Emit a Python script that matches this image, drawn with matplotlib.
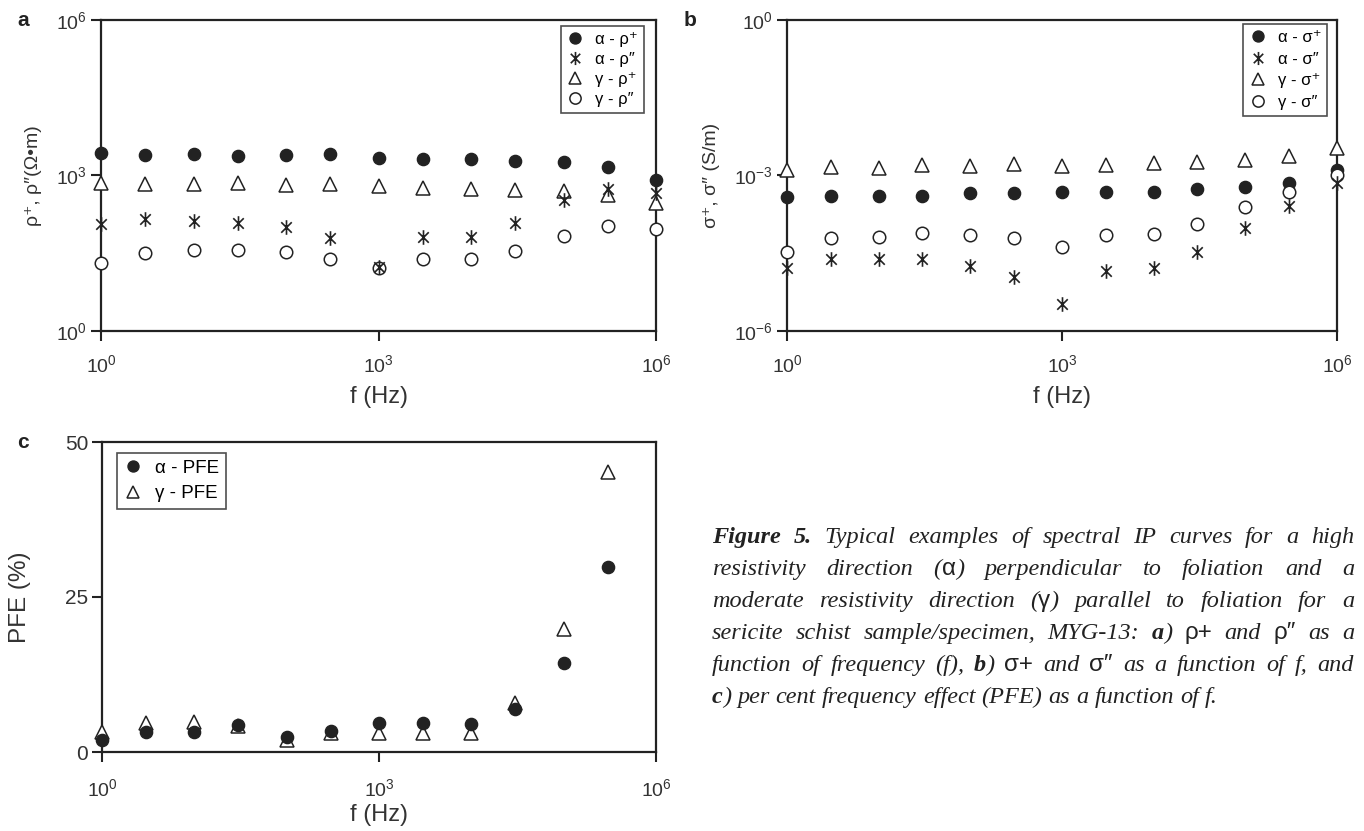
import re
import matplotlib
matplotlib.use("Agg")
import matplotlib.pyplot as plt
from matplotlib.path import Path

plt.rcParams["font.family"] = ["Liberation Sans", "DejaVu Sans"]
plt.rcParams["mathtext.default"] = "regular"

W, H = 1364, 831

# frequencies (Hz)
freq = [1, 3, 10, 30, 100, 300, 1e3, 3e3, 1e4, 3e4, 1e5, 3e5, 1e6]
freq_pfe = freq[:-1]

# panel a: resistivity (ohm m)
rho_re_alpha = [2690, 2510, 2630, 2400, 2450, 2570, 2140, 2040, 2040, 1910, 1820, 1480, 832]
rho_im_alpha = [117, 148, 135, 120, 102, 62, 17.4, 65, 65, 120, 331, 537, 468]
rho_re_gamma = [724, 676, 676, 724, 661, 692, 617, 575, 537, 525, 513, 427, 295]
rho_im_gamma = [20.4, 32, 36, 36, 34, 24, 16.6, 24, 24, 35, 68, 105, 94]

# panel b: conductivity (S/m), stored as log10
sig_re_alpha = [-3.42, -3.40, -3.39, -3.39, -3.33, -3.33, -3.32, -3.31, -3.32, -3.26, -3.23, -3.15, -2.89]
sig_im_alpha = [-4.79, -4.62, -4.62, -4.62, -4.75, -4.95, -5.47, -4.85, -4.79, -4.47, -4.01, -3.58, -3.15]
sig_re_gamma = [-2.89, -2.83, -2.85, -2.79, -2.81, -2.78, -2.81, -2.79, -2.75, -2.74, -2.70, -2.63, -2.47]
sig_im_gamma = [-4.47, -4.21, -4.18, -4.10, -4.15, -4.21, -4.37, -4.15, -4.12, -3.94, -3.60, -3.31, -2.99]

# panel c: per cent frequency effect
pfe_alpha = [2.0, 3.2, 3.2, 4.4, 2.4, 3.4, 4.6, 4.7, 4.5, 7.0, 14.3, 29.9]
pfe_gamma = [3.2, 4.6, 4.8, 4.2, 2.0, 3.1, 3.1, 3.1, 3.0, 7.9, 19.8, 45.2]

freq_ticks = [1, 1e3, 1e6]
freq_ticklabels = ["$10^0$", "$10^3$", "$10^6$"]
rho_ticks = [1, 1e3, 1e6]
rho_ticklabels = ["$10^0$", "$10^3$", "$10^6$"]
sig_ticks = [1e-6, 1e-3, 1]
sig_ticklabels = ["$10^{-6}$", "$10^{-3}$", "$10^0$"]
pfe_ticks = [0, 25, 50]

caption_lines = [
    "**Figure** **5.** Typical examples of spectral IP curves for a high",
    "resistivity direction ({α}) perpendicular to foliation and a",
    "moderate resistivity direction ({γ}) parallel to foliation for a",
    "sericite schist sample/specimen, MYG-13: **a**) {ρ+} and {ρ″} as a",
    "function of frequency (f), **b**) {σ+} and {σ″} as a function of f, and",
    "**c**) per cent frequency effect (PFE) as a function of f.",
]

# asterisk drawn as vertical stroke plus an X (like the original symbol)
star_path = Path(
    [(0, -1), (0, 1), (-0.72, -0.72), (0.72, 0.72), (-0.72, 0.72), (0.72, -0.72)],
    [Path.MOVETO, Path.LINETO, Path.MOVETO, Path.LINETO, Path.MOVETO, Path.LINETO],
)

INK = "#222222"
STYLES = {
    "filled": dict(marker="o", mfc=INK, mec=INK, ms=8.8, mew=1.0),
    "star": dict(marker=star_path, mfc="none", mec=INK, ms=10.5, mew=1.2),
    "tri": dict(marker="^", mfc="white", mec=INK, ms=9.8, mew=1.1),
    "open": dict(marker="o", mfc="white", mec=INK, ms=9.0, mew=1.1),
}

fig = plt.figure(figsize=(W / 100, H / 100), dpi=100)


def px_axes(left, top, right, bottom):
    return fig.add_axes([left / W, 1 - bottom / H, (right - left) / W, (bottom - top) / H])


def style_axes(ax, labelsize=14, xpad=10):
    for sp in ax.spines.values():
        sp.set_linewidth(1.6)
        sp.set_color(INK)
    ax.tick_params(axis="both", which="major", direction="out", length=7, width=1.5,
                   labelsize=labelsize, colors=INK, labelcolor="#333333")
    ax.tick_params(axis="x", pad=xpad)
    ax.tick_params(axis="y", pad=3)
    ax.tick_params(which="minor", length=0)


def scatter(ax, x, y, kind, label, z=3):
    ax.plot(x, y, linestyle="none", label=label, clip_on=False, zorder=z, **STYLES[kind])


def legend(ax, loc, size, anchor, spacing=0.3, handles=None):
    kw = dict(loc=loc, bbox_to_anchor=anchor, fontsize=size, frameon=True,
              fancybox=False, borderpad=0.35, labelspacing=spacing, handletextpad=0.7,
              handlelength=1.0, borderaxespad=0.0, markerscale=0.9)
    if handles is None:
        leg = ax.legend(**kw)
    else:
        leg = ax.legend(handles[0], handles[1], **kw)
    leg.get_frame().set_edgecolor(INK)
    leg.get_frame().set_linewidth(1.2)
    return leg


# ---- panel a
ax_a = px_axes(101, 20, 656, 331)
scatter(ax_a, freq, rho_re_alpha, "filled", "α - ρ⁺")
scatter(ax_a, freq, rho_im_alpha, "star", "α - ρ″", z=4)
scatter(ax_a, freq, rho_re_gamma, "tri", "γ - ρ⁺")
scatter(ax_a, freq, rho_im_gamma, "open", "γ - ρ″")
ax_a.set_xscale("log")
ax_a.set_yscale("log")
ax_a.set_xlim(1, 1e6)
ax_a.set_ylim(1, 1e6)
ax_a.set_xticks(freq_ticks, freq_ticklabels)
ax_a.set_yticks(rho_ticks, rho_ticklabels)
ax_a.minorticks_off()
style_axes(ax_a)
ax_a.set_xlabel("f (Hz)", fontsize=17, color="#333333", labelpad=7)
ax_a.set_ylabel("ρ⁺, ρ″(Ω•m)", fontsize=14, color="#333333", labelpad=10)
legend(ax_a, "upper right", 12, (0.978, 0.981))

# ---- panel b
ax_b = px_axes(787, 20, 1337, 331)
scatter(ax_b, freq, [10 ** v for v in sig_re_alpha], "filled", "α - σ⁺")
scatter(ax_b, freq, [10 ** v for v in sig_im_alpha], "star", "α - σ″", z=4)
scatter(ax_b, freq, [10 ** v for v in sig_re_gamma], "tri", "γ - σ⁺")
scatter(ax_b, freq, [10 ** v for v in sig_im_gamma], "open", "γ - σ″")
ax_b.set_xscale("log")
ax_b.set_yscale("log")
ax_b.set_xlim(1, 1e6)
ax_b.set_ylim(1e-6, 1)
ax_b.set_xticks(freq_ticks, freq_ticklabels)
ax_b.set_yticks(sig_ticks, sig_ticklabels)
ax_b.minorticks_off()
style_axes(ax_b)
ax_b.set_xlabel("f (Hz)", fontsize=17, color="#333333", labelpad=7)
ax_b.set_ylabel("σ⁺, σ″ (S/m)", fontsize=14, color="#333333", labelpad=10)
legend(ax_b, "upper right", 12, (0.982, 0.987), spacing=0.4)

# ---- panel c
ax_c = px_axes(102, 442, 656, 752)
scatter(ax_c, freq_pfe, pfe_gamma, "tri", "γ - PFE", z=3)
scatter(ax_c, freq_pfe, pfe_alpha, "filled", "α - PFE", z=4)
ax_c.set_xscale("log")
ax_c.set_xlim(1, 1e6)
ax_c.set_ylim(0, 50)
ax_c.set_xticks(freq_ticks, freq_ticklabels)
ax_c.set_yticks(pfe_ticks, [str(t) for t in pfe_ticks])
ax_c.minorticks_off()
style_axes(ax_c, xpad=12)
ax_c.tick_params(axis="y", labelsize=15)
ax_c.set_xlabel("f (Hz)", fontsize=17, color="#333333", labelpad=3)
ax_c.set_ylabel("PFE (%)", fontsize=17.5, color="#333333", labelpad=24)
h, l = ax_c.get_legend_handles_labels()
legend(ax_c, "upper left", 13.5, (0.027, 0.965), spacing=0.45, handles=(h[::-1], l[::-1]))

# panel letters
for x, y, s in [(17, 21, "a"), (684, 21, "b"), (17, 443, "c")]:
    fig.text(x / W, 1 - y / H, s, fontsize=15, fontweight="bold", color=INK,
             ha="left", va="center")

# ---- caption, justified
renderer = fig.canvas.get_renderer()
CAP_SIZE = 17.5
seg_props = {
    "it": dict(family="Liberation Serif", style="italic", weight="normal"),
    "bf": dict(family="Liberation Serif", style="italic", weight="bold"),
    "gr": dict(family=["Liberation Sans", "DejaVu Sans"], style="normal", weight="normal"),
}


def split_word(word):
    out = []
    for part in re.split(r"(\*\*.*?\*\*|\{.*?\})", word):
        if not part:
            continue
        if part.startswith("**"):
            out.append((part[2:-2], "bf"))
        elif part.startswith("{"):
            out.append((part[1:-1], "gr"))
        else:
            out.append((part, "it"))
    return out


def text_width(s, kind):
    t = fig.text(0, 0, s, fontsize=CAP_SIZE, **seg_props[kind])
    w = t.get_window_extent(renderer).width
    t.remove()
    return w


cap_x0, cap_x1 = 712, 1354
cap_y0, cap_dy = 543, 32
natural_gap = text_width("a a", "it") - 2 * text_width("a", "it")
for i, line in enumerate(caption_lines):
    words = [split_word(w) for w in line.split(" ")]
    widths = [[text_width(s, k) for s, k in wd] for wd in words]
    totals = [sum(ws) for ws in widths]
    if i < len(caption_lines) - 1:
        gap = (cap_x1 - cap_x0 - sum(totals)) / (len(words) - 1)
    else:
        gap = natural_gap
    x = cap_x0
    y = 1 - (cap_y0 + i * cap_dy) / H
    for wd, ws in zip(words, widths):
        for (s, k), w in zip(wd, ws):
            fig.text(x / W, y, s, fontsize=CAP_SIZE, color=INK, ha="left",
                     va="baseline", **seg_props[k])
            x += w
        x += gap

fig.savefig("out.png", dpi=100)
